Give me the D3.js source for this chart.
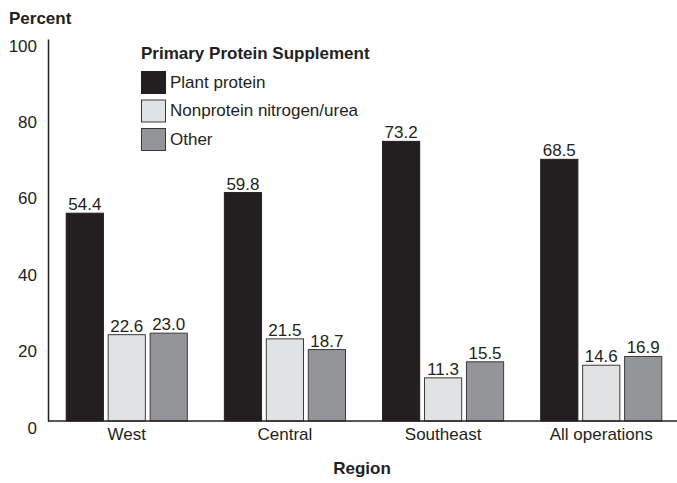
<!DOCTYPE html>
<html>
<head>
<meta charset="utf-8">
<script src="https://cdn.jsdelivr.net/npm/d3@7"></script>
<style>
  body { margin: 0; background: #fff; }
  svg { display: block; font-family: "Liberation Sans", Arial, sans-serif; }
</style>
</head>
<body>
<div id="chart"></div>
<script>
const regions = ["West", "Central", "Southeast", "All operations"];
const seriesNames = ["Plant protein", "Nonprotein nitrogen/urea", "Other"];
const plantProtein = [54.4, 59.8, 73.2, 68.5];
const nonprotein = [22.6, 21.5, 11.3, 14.6];
const other = [23.0, 18.7, 15.5, 16.9];
const yTicks = [0, 20, 40, 60, 80, 100];

const seriesValues = [plantProtein, nonprotein, other];
const colors = ["#231f20", "#e1e2e3", "#939598"];
const strokes = ["#231f20", "#3a3a3a", "#3a3a3a"];

const width = 677;
const height = 483;
const margin = { top: 39, right: 0, bottom: 62, left: 48 };
const plotBottom = height - margin.bottom;

const svg = d3.select("#chart")
  .append("svg")
  .attr("width", width)
  .attr("height", height)
  .attr("viewBox", [0, 0, width, height]);

// Scales
const x0 = d3.scaleBand()
  .domain(regions)
  .range([margin.left, 680])
  .paddingInner(0.228)
  .paddingOuter(0.112);

const x1 = d3.scaleBand()
  .domain(seriesNames)
  .range([0, x0.bandwidth()])
  .paddingInner(0.09);

const y = d3.scaleLinear()
  .domain([0, 100])
  .range([plotBottom, margin.top]);

// Bars
const groups = svg.append("g")
  .selectAll("g")
  .data(regions)
  .join("g")
  .attr("transform", (d) => `translate(${x0(d)},0)`);

const cells = groups.selectAll("g")
  .data((d, i) => seriesNames.map((s, j) => ({ series: s, idx: j, value: seriesValues[j][i] })))
  .join("g");

cells.append("rect")
  .attr("x", (d) => x1(d.series) + 0.5)
  .attr("y", (d) => y(d.value))
  .attr("width", x1.bandwidth() - 1)
  .attr("height", (d) => plotBottom - y(d.value))
  .attr("fill", (d) => colors[d.idx])
  .attr("stroke", (d) => strokes[d.idx])
  .attr("stroke-width", 1);

cells.append("text")
  .attr("x", (d) => x1(d.series) + x1.bandwidth() / 2)
  .attr("y", (d) => y(d.value) - 3)
  .attr("text-anchor", "middle")
  .attr("fill", "#231f20")
  .style("font-size", "17px")
  .text((d) => d.value.toFixed(1));

// Y axis
const yAxis = svg.append("g")
  .attr("transform", `translate(${margin.left},0)`)
  .call(d3.axisLeft(y).tickValues(yTicks).tickSize(0).tickPadding(11))
  .call((g) => g.select(".domain").attr("stroke", "#231f20").attr("stroke-width", 1.5));

yAxis.selectAll("text")
  .attr("dy", "12px")
  .attr("fill", "#231f20")
  .style("font-size", "17px")
  .style("font-family", "Liberation Sans, Arial, sans-serif");

// X axis
const xAxis = svg.append("g")
  .attr("transform", `translate(0,${plotBottom})`)
  .call(d3.axisBottom(x0).tickSize(0).tickPadding(7).tickSizeOuter(0));

xAxis.select(".domain")
  .attr("d", `M${margin.left},0H${width}`)
  .attr("stroke", "#231f20")
  .attr("stroke-width", 1.5);

xAxis.selectAll("text")
  .attr("dy", "0.71em")
  .attr("fill", "#231f20")
  .style("font-size", "17px")
  .style("font-family", "Liberation Sans, Arial, sans-serif");

// Axis titles
svg.append("text")
  .attr("x", 9)
  .attr("y", 24)
  .attr("fill", "#231f20")
  .style("font-size", "17px")
  .style("font-weight", "bold")
  .text("Percent");

svg.append("text")
  .attr("x", 362)
  .attr("y", 474)
  .attr("text-anchor", "middle")
  .attr("fill", "#231f20")
  .style("font-size", "17px")
  .style("font-weight", "bold")
  .text("Region");

// Legend
const legend = svg.append("g")
  .attr("transform", "translate(141,0)");

legend.append("text")
  .attr("x", 0)
  .attr("y", 59)
  .attr("fill", "#231f20")
  .style("font-size", "17px")
  .style("font-weight", "bold")
  .text("Primary Protein Supplement");

const items = legend.selectAll("g.item")
  .data(seriesNames)
  .join("g")
  .attr("class", "item")
  .attr("transform", (d, i) => `translate(0,${71 + i * 28.5})`);

items.append("rect")
  .attr("x", 0.5)
  .attr("y", 0.5)
  .attr("width", 24)
  .attr("height", 22)
  .attr("fill", (d, i) => colors[i])
  .attr("stroke", (d, i) => strokes[i])
  .attr("stroke-width", 1);

items.append("text")
  .attr("x", 29)
  .attr("y", 16.5)
  .attr("fill", "#231f20")
  .style("font-size", "17px")
  .text((d) => d);
</script>
</body>
</html>
